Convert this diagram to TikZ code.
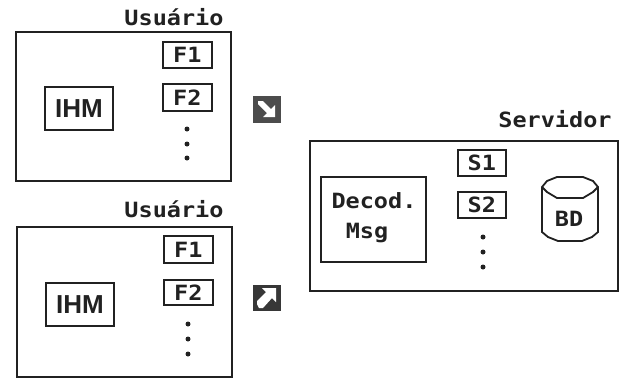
\documentclass[tikz,border=0pt]{standalone}
\usepackage{fontspec}
\setmainfont{Liberation Sans}
\newfontfamily\pixfont[FakeStretch=1.12]{DejaVu Sans Mono Bold}
\definecolor{ink}{gray}{0.13}
\tikzset{
  box/.style={draw=ink,line width=1.8pt,rectangle,inner sep=0pt,anchor=north west},
  lab/.style={font=\pixfont\fontsize{21}{21}\selectfont,text=ink,inner sep=0pt},
  sm/.style={font=\pixfont\fontsize{21}{21}\selectfont,text=ink,inner sep=0pt},
  ihm/.style={font=\bfseries\fontsize{26}{26}\selectfont,text=ink,inner sep=0pt},
  dotm/.style={circle,fill=ink,inner sep=0pt,minimum size=5pt},
  icon/.style={fill=ink!90,draw=none,rectangle,inner sep=0pt,minimum width=28pt,minimum height=27pt}
}
\begin{document}
\begin{tikzpicture}[x=1pt,y=-1pt]
\useasboundingbox (0,0) rectangle (625,378);
% top user
\node[box,minimum width=215pt,minimum height=149pt] (u1) at (15,31) {};
\node[lab] (u1t) at (174,17) {Usuário};
\node[box,minimum width=49pt,minimum height=26pt,sm] (u1f1) at (162,41) {F1};
\node[box,minimum width=49pt,minimum height=27pt,sm] (u1f2) at (162,83) {F2};
\node[box,minimum width=68pt,minimum height=43pt,ihm] (u1i) at (44,86) {IHM};
\node[dotm] (u1d1) at (187,129) {};
\node[dotm] (u1d2) at (187,144) {};
\node[dotm] (u1d3) at (187,158) {};
\node[icon,fill=black!70] (ic1) at (267,109) {};
\fill[white] (258,101) -- (263,101) -- (271,109) -- (275,105) -- (275,117) -- (263,117) -- (267,113) -- (258,104) -- cycle;
% bottom user
\node[box,minimum width=215pt,minimum height=150pt] (u2) at (16,226) {};
\node[lab] (u2t) at (174,209) {Usuário};
\node[box,minimum width=49pt,minimum height=27pt,sm] (u2f1) at (163,235) {F1};
\node[box,minimum width=49pt,minimum height=25pt,sm] (u2f2) at (163,279) {F2};
\node[box,minimum width=68pt,minimum height=43pt,ihm] (u2i) at (45,282) {IHM};
\node[dotm] (u2d1) at (188,324) {};
\node[dotm] (u2d2) at (188,339) {};
\node[dotm] (u2d3) at (188,354) {};
\node[icon,minimum height=26pt] (ic2) at (267,298) {};
\fill[white] (257,304) -- (257,301) -- (266,292) -- (262,288) -- (276,288) -- (276,302) -- (272,298) -- (263,308) -- (259,308) -- cycle;
% server
\node[box,minimum width=308pt,minimum height=150pt] (s) at (309,140) {};
\node[lab] (st) at (555,119) {Servidor};
\node[box,minimum width=48pt,minimum height=26pt,sm] (s1) at (457,149) {S1};
\node[box,minimum width=48pt,minimum height=26pt,sm] (s2) at (457,191) {S2};
\node[box,minimum width=105pt,minimum height=85pt] (dec) at (320,176) {};
\node[lab] (dect) at (374,201) {Decod.};
\node[lab] (msgt) at (367,233) {Msg};
\node[dotm] (sd1) at (483,237) {};
\node[dotm] (sd2) at (483,252) {};
\node[dotm] (sd3) at (483,267) {};
\draw[draw=ink,line width=1.8pt] (542,187) -- (547,181) -- (557,177) -- (583,177) -- (593,181) -- (598,187) -- (598,232) -- (592,237) -- (582,241) -- (558,241) -- (548,237) -- (542,232) -- cycle;
\draw[draw=ink,line width=1.8pt] (542,187) -- (547,192) -- (557,198) -- (583,198) -- (593,192) -- (598,187);
\node[sm] (bd) at (569,219) {BD};
\end{tikzpicture}
\end{document}
